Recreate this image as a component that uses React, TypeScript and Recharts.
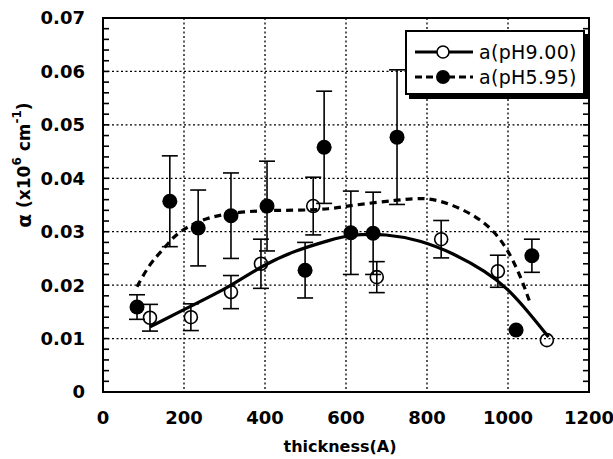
import React from 'react';
import { ComposedChart, Line, Scatter, XAxis, YAxis, CartesianGrid, ErrorBar, ReferenceArea } from 'recharts';

// axis ticks
const xTicks = [0, 200, 400, 600, 800, 1000, 1200];
const yTicks = [0, 0.01, 0.02, 0.03, 0.04, 0.05, 0.06, 0.07];
const yMinorTicks = [
  0.002, 0.004, 0.006, 0.008, 0.01, 0.012, 0.014, 0.016, 0.018, 0.02, 0.022, 0.024, 0.026, 0.028,
  0.03, 0.032, 0.034, 0.036, 0.038, 0.04, 0.042, 0.044, 0.046, 0.048, 0.05, 0.052, 0.054, 0.056,
  0.058, 0.06, 0.062, 0.064, 0.066, 0.068,
];

// a(pH9.00) - open circles
const ph900X = [116, 217, 316, 390, 519, 676, 835, 975, 1096];
const ph900Y = [0.0139, 0.014, 0.0187, 0.024, 0.0348, 0.0215, 0.0286, 0.0226, 0.0097];
const ph900Err = [0.0025, 0.0025, 0.0031, 0.0046, 0.0054, 0.0029, 0.0035, 0.003, 0];

// a(pH5.95) - filled circles
const ph595X = [84, 165, 235, 316, 405, 499, 546, 612, 667, 726, 1020, 1059];
const ph595Y = [0.0159, 0.0357, 0.0307, 0.033, 0.0348, 0.0228, 0.0458, 0.0298, 0.0297, 0.0477, 0.0116, 0.0255];
const ph595Err = [0.0023, 0.0085, 0.0071, 0.008, 0.0084, 0.0052, 0.0105, 0.0078, 0.0077, 0.0126, 0, 0.0031];

// fitted curves
const fit900X = [116, 207, 314, 395, 479, 560, 610, 700, 783, 864, 947, 997, 1047, 1100];
const fit900Y = [0.0122, 0.0157, 0.0197, 0.0238, 0.0266, 0.0284, 0.0295, 0.0296, 0.0284, 0.026, 0.0225, 0.0195, 0.0153, 0.0103];
const fit595X = [84, 116, 148, 173, 207, 257, 314, 395, 479, 560, 617, 726, 800, 865, 923, 963, 997, 1030, 1054];
const fit595Y = [0.0197, 0.0241, 0.0266, 0.029, 0.0309, 0.0326, 0.0335, 0.034, 0.034, 0.0342, 0.035, 0.0359, 0.0365, 0.035, 0.0328, 0.0303, 0.027, 0.0219, 0.0168];

const zip = (xs: number[], ys: number[], errs?: number[]) =>
  xs.map((x, i) => ({ x, y: ys[i], err: errs ? errs[i] : 0 }));

const pts900 = zip(ph900X, ph900Y, ph900Err);
const pts595 = zip(ph595X, ph595Y, ph595Err);
const curve900 = zip(fit900X, fit900Y);
const curve595 = zip(fit595X, fit595Y);
const ticksLeft = yMinorTicks.map((y) => ({ x: 0, y }));
const ticksRight = yMinorTicks.map((y) => ({ x: 1200, y }));

const FONT = '"DejaVu Sans", "Liberation Sans", Arial, sans-serif';
const tickStyle = { fill: '#000', fontSize: 18, fontWeight: 'bold' as const, fontFamily: FONT };

const OpenDot = (p: any) => <circle cx={p.cx} cy={p.cy} r={6.5} fill="none" stroke="#000" strokeWidth={1.6} />;
const FilledDot = (p: any) => <circle cx={p.cx} cy={p.cy} r={7.5} fill="#000" />;
const TickIn = (dir: number) => (p: any) => (
  <line x1={p.cx} y1={p.cy} x2={p.cx + dir * 6} y2={p.cy} stroke="#000" strokeWidth={1.6} />
);

const LegendBox = () => (
  <div
    style={{
      position: 'absolute', left: 405, top: 30, width: 176, height: 61,
      border: '2px solid #000', boxShadow: '4px 4px 0 #000', background: '#fff',
      fontFamily: FONT, fontSize: 19, color: '#000',
    }}
  >
    {[{ label: 'a(pH9.00)', dash: undefined, open: true }, { label: 'a(pH5.95)', dash: '7 4', open: false }].map((row, i) => (
      <div key={row.label} style={{ display: 'flex', alignItems: 'center', height: 25, marginTop: i === 0 ? 7 : 0 }}>
        <svg width={64} height={20} style={{ marginLeft: 6 }}>
          <line x1={2} y1={10} x2={60} y2={10} stroke="#000" strokeWidth={3} strokeDasharray={row.dash} />
          {row.open
            ? <circle cx={30} cy={10} r={6} fill="#fff" stroke="#000" strokeWidth={1.6} />
            : <circle cx={30} cy={10} r={7} fill="#000" />}
        </svg>
        <span style={{ marginLeft: 2, letterSpacing: 0.3 }}>{row.label}</span>
      </div>
    ))}
  </div>
);

export default function App() {
  return (
    <div style={{ position: 'absolute', left: 0, top: 0, width: 613, height: 459, background: '#fff' }}>
      <ComposedChart width={613} height={459} margin={{ top: 18, right: 24, bottom: 0, left: 0 }}>
        <CartesianGrid stroke="#000" strokeWidth={1.3} strokeDasharray="2 2.5" />
        <XAxis
          dataKey="x"
          type="number"
          domain={[0, 1200]}
          ticks={xTicks}
          interval={0}
          height={67}
          axisLine={false}
          tickLine={false}
          tickSize={0}
          tickMargin={19}
          tick={tickStyle}
          label={{
            content: (props: any) => {
              const vb = props.viewBox;
              return (
                <text x={vb.x + vb.width / 2 - 6} y={vb.y + 54} textAnchor="middle" dominantBaseline="central"
                  fontFamily={FONT} fontSize={16} fontWeight="bold" fill="#000">
                  thickness(A)
                </text>
              );
            },
          }}
        />
        <YAxis
          dataKey="y"
          type="number"
          domain={[0, 0.07]}
          ticks={yTicks}
          interval={0}
          width={103}
          axisLine={false}
          tickLine={false}
          tickSize={0}
          tickMargin={18}
          tick={tickStyle}
          tickFormatter={(v: number) => (v === 0 ? '0' : v.toFixed(2))}
          label={{
            content: (props: any) => {
              const vb = props.viewBox;
              const cx = vb.x + 24;
              const cy = vb.y + vb.height / 2 - 40;
              return (
                <text x={cx} y={cy} transform={`rotate(-90 ${cx} ${cy})`} textAnchor="middle" dominantBaseline="central"
                  fontFamily={FONT} fontSize={17} fontWeight="bold" fill="#000">
                  <tspan fontSize={20}>α</tspan>  (x10<tspan dy={-7} fontSize={12}>6</tspan><tspan dy={7}> cm</tspan>
                  <tspan dy={-7} fontSize={12}>-1</tspan><tspan dy={7}>)</tspan>
                </text>
              );
            },
          }}
        />
        <Scatter data={ticksLeft} dataKey="y" shape={TickIn(1)} isAnimationActive={false} />
        <Scatter data={ticksRight} dataKey="y" shape={TickIn(-1)} isAnimationActive={false} />
        <ReferenceArea x1={0} x2={1200} y1={0} y2={0.07} fill="none" stroke="#000" strokeWidth={2} />
        <Line data={curve595} dataKey="y" type="basis" stroke="#000" strokeWidth={3.2} strokeDasharray="7 5"
          dot={false} activeDot={false} isAnimationActive={false} />
        <Line data={curve900} dataKey="y" type="basis" stroke="#000" strokeWidth={3.2}
          dot={false} activeDot={false} isAnimationActive={false} />
        <Scatter data={pts900} dataKey="y" shape={OpenDot} isAnimationActive={false}>
          <ErrorBar dataKey="err" direction="y" width={8} stroke="#000" strokeWidth={1.6} />
        </Scatter>
        <Scatter data={pts595} dataKey="y" shape={FilledDot} isAnimationActive={false}>
          <ErrorBar dataKey="err" direction="y" width={8} stroke="#000" strokeWidth={1.6} />
        </Scatter>
      </ComposedChart>
      <LegendBox />
    </div>
  );
}
